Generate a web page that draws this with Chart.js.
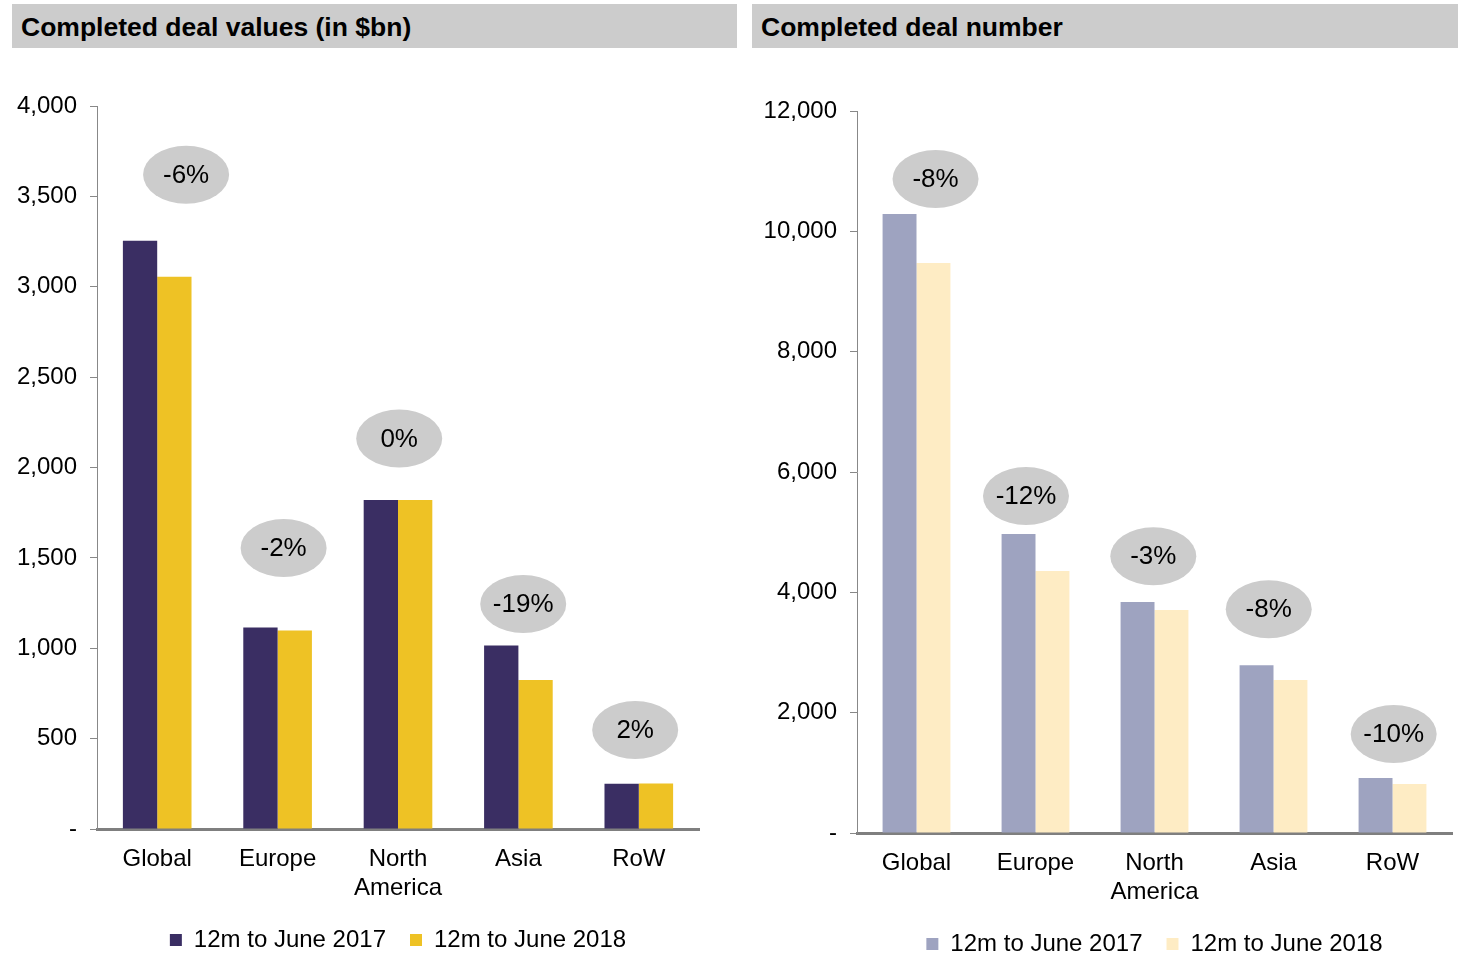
<!DOCTYPE html>
<html>
<head>
<meta charset="utf-8">
<script src="https://cdn.jsdelivr.net/npm/chart.js@4.4.1/dist/chart.umd.min.js"></script>
<style>
  body { margin: 0; background: #fff; font-family: "Liberation Sans", Arial, sans-serif; overflow: hidden; }
  .head { position: absolute; top: 4px; height: 44px; background: #cccccc; font-weight: bold; font-size: 26.5px; line-height: 47px; padding-left: 9px; box-sizing: border-box; color: #000; }
  .box { position: absolute; top: 60px; }
</style>
</head>
<body>
<div class="head" style="left:12px;width:725px;">Completed deal values (in $bn)</div>
<div class="head" style="left:752px;width:706px;">Completed deal number</div>
<div class="box" style="left:0;width:737px;height:902px;"><canvas id="values"></canvas></div>
<div class="box" style="left:740px;width:718px;height:906px;"><canvas id="number"></canvas></div>
<script>
// shared categories and legend names
const regions = ['Global', 'Europe', ['North', 'America'], 'Asia', 'RoW'];
const seriesNames = ['12m to June 2017', '12m to June 2018'];

// left: deal values ($bn)
const values2017 = [3255, 1115, 1820, 1015, 250];
const values2018 = [3055, 1098, 1820, 825, 252];
const valuesChange = ['-6%', '-2%', '0%', '-19%', '2%'];
const valuesBubbleAt = [3620, 1555, 2160, 1245, 548];   // bubble centre height, in $bn
const valuesBubbleShift = [0.24, 0.05, 0.01, 0.04, -0.03];

// right: deal number
const number2017 = [10290, 4970, 3840, 2790, 915];
const number2018 = [9475, 4355, 3705, 2545, 815];
const numberChange = ['-8%', '-12%', '-3%', '-8%', '-10%'];
const numberBubbleAt = [10870, 5600, 4600, 3720, 1645];
const numberBubbleShift = [0.16, -0.08, -0.01, -0.04, 0.01];

const FONT = '"Liberation Sans", Arial, sans-serif';
Chart.defaults.font.family = FONT;
Chart.defaults.color = '#000';

// grey ellipses with the % change above each pair of bars
const bubbles = {
  id: 'bubbles',
  afterDatasetsDraw(chart, args, opts) {
    const { ctx, scales: { x, y } } = chart;
    const step = x.getPixelForValue(1) - x.getPixelForValue(0);
    opts.labels.forEach((txt, i) => {
      const cx = x.getPixelForValue(i) + opts.shift[i] * step;
      const cy = y.getPixelForValue(opts.at[i]);
      ctx.save();
      ctx.fillStyle = '#cccccc';
      ctx.beginPath();
      ctx.ellipse(cx, cy, 43, 29, 0, 0, Math.PI * 2);
      ctx.fill();
      ctx.fillStyle = '#000';
      ctx.font = '26px ' + FONT;
      ctx.textAlign = 'center';
      ctx.textBaseline = 'middle';
      ctx.fillText(txt, cx, cy + 1);
      ctx.restore();
    });
  }
};

function makeChart(id, a, b, colors, max, step, change, at, shift, pad) {
  return new Chart(document.getElementById(id), {
    type: 'bar',
    data: {
      labels: regions,
      datasets: [
        { label: seriesNames[0], data: a, backgroundColor: colors[0], categoryPercentage: 0.57, barPercentage: 1 },
        { label: seriesNames[1], data: b, backgroundColor: colors[1], categoryPercentage: 0.57, barPercentage: 1 }
      ]
    },
    options: {
      responsive: true,
      maintainAspectRatio: false,
      animation: false,
      layout: { padding: pad },
      plugins: {
        tooltip: { enabled: false },
        legend: {
          position: 'bottom',
          fullSize: false,
          labels: { boxWidth: 12, boxHeight: 12, padding: 24, font: { size: 24 } }
        },
        bubbles: { labels: change, at: at, shift: shift }
      },
      scales: {
        x: {
          afterFit(s) { s.height = 75; },
          grid: { display: false },
          border: { color: '#7f7f7f', width: 3 },
          ticks: { font: { size: 24 }, padding: 8, maxRotation: 0 }
        },
        y: {
          min: 0,
          max: max,
          afterFit(s) { s.width = pad.yWidth; },
          border: { color: '#888', width: 1 },
          grid: { drawOnChartArea: false, drawTicks: true, tickLength: 7, color: '#888' },
          ticks: {
            stepSize: step,
            padding: 13,
            font: { size: 24 },
            callback: v => v === 0 ? '-' : v.toLocaleString('en-US')
          }
        }
      }
    },
    plugins: [bubbles]
  });
}

makeChart('values', values2017, values2018, ['#3a2e63', '#eec225'], 4000, 500,
  valuesChange, valuesBubbleAt, valuesBubbleShift,
  { top: 46, right: 38, bottom: 0, left: 0, yWidth: 97 });

makeChart('number', number2017, number2018, ['#9ea3c0', '#feecc4'], 12000, 2000,
  numberChange, numberBubbleAt, numberBubbleShift,
  { top: 51, right: 6, bottom: 0, left: 0, yWidth: 117 });
</script>
</body>
</html>
